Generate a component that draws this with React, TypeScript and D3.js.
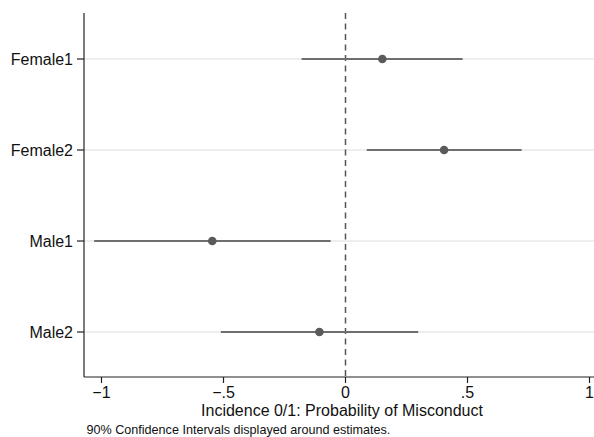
import React from "react";
import * as d3 from "d3";

const categories = ["Female1", "Female2", "Male1", "Male2"];
const estimates = [0.151, 0.404, -0.546, -0.107];
const lower = [-0.18, 0.087, -1.03, -0.511];
const upper = [0.48, 0.722, -0.061, 0.298];
const xTicks = [-1, -0.5, 0, 0.5, 1];
const xTickLabels = ["\u22121", "\u2212.5", "0", ".5", "1"];

const W = 594, H = 437;
const left = 84, right = 594, top = 13, bottom = 377;

export default function App() {
  const x = d3.scaleLinear().domain([-1.0717, 1.0184]).range([left, right]);
  const y = d3.scalePoint<string>().domain(categories).range([59, 332]);
  const font = "'Liberation Sans', Arial, Helvetica, sans-serif";
  return (
    <svg width={W} height={H} style={{ position: "absolute", left: 0, top: 0, background: "#fff" }} fontFamily={font}>
      {categories.map((c) => (
        <line key={"g" + c} x1={left} x2={right} y1={y(c)} y2={y(c)} stroke="#e8e8e8" strokeWidth={1.5} />
      ))}
      <line x1={x(0)} x2={x(0)} y1={top} y2={bottom} stroke="#555" strokeWidth={1.5} strokeDasharray="6,4.5" />
      {categories.map((c, i) => (
        <g key={"ci" + c}>
          <line x1={x(lower[i])} x2={x(upper[i])} y1={y(c)} y2={y(c)} stroke="#6e6e6e" strokeWidth={2} />
          <circle cx={x(estimates[i])} cy={y(c)} r={4.3} fill="#5a5a5a" />
        </g>
      ))}
      <line x1={left} x2={left} y1={top} y2={bottom} stroke="#222" strokeWidth={1.2} />
      <line x1={left} x2={right} y1={bottom} y2={bottom} stroke="#222" strokeWidth={1.2} />
      {categories.map((c) => (
        <g key={"yt" + c}>
          <line x1={77} x2={left} y1={y(c)} y2={y(c)} stroke="#222" strokeWidth={1.2} />
          <text x={73} y={y(c)} dy="0.35em" textAnchor="end" fontSize={16} fill="#111">{c}</text>
        </g>
      ))}
      {xTicks.map((t, i) => (
        <g key={"xt" + t}>
          <line x1={x(t)} x2={x(t)} y1={bottom} y2={bottom + 6} stroke="#222" strokeWidth={1.2} />
          <text x={x(t)} y={397.5} textAnchor="middle" fontSize={16} fill="#111">{xTickLabels[i]}</text>
        </g>
      ))}
      <text x={342} y={416} textAnchor="middle" fontSize={16} fill="#111">Incidence 0/1: Probability of Misconduct</text>
      <text x={86.5} y={434} fontSize={12.6} fill="#111">90% Confidence Intervals displayed around estimates.</text>
    </svg>
  );
}
